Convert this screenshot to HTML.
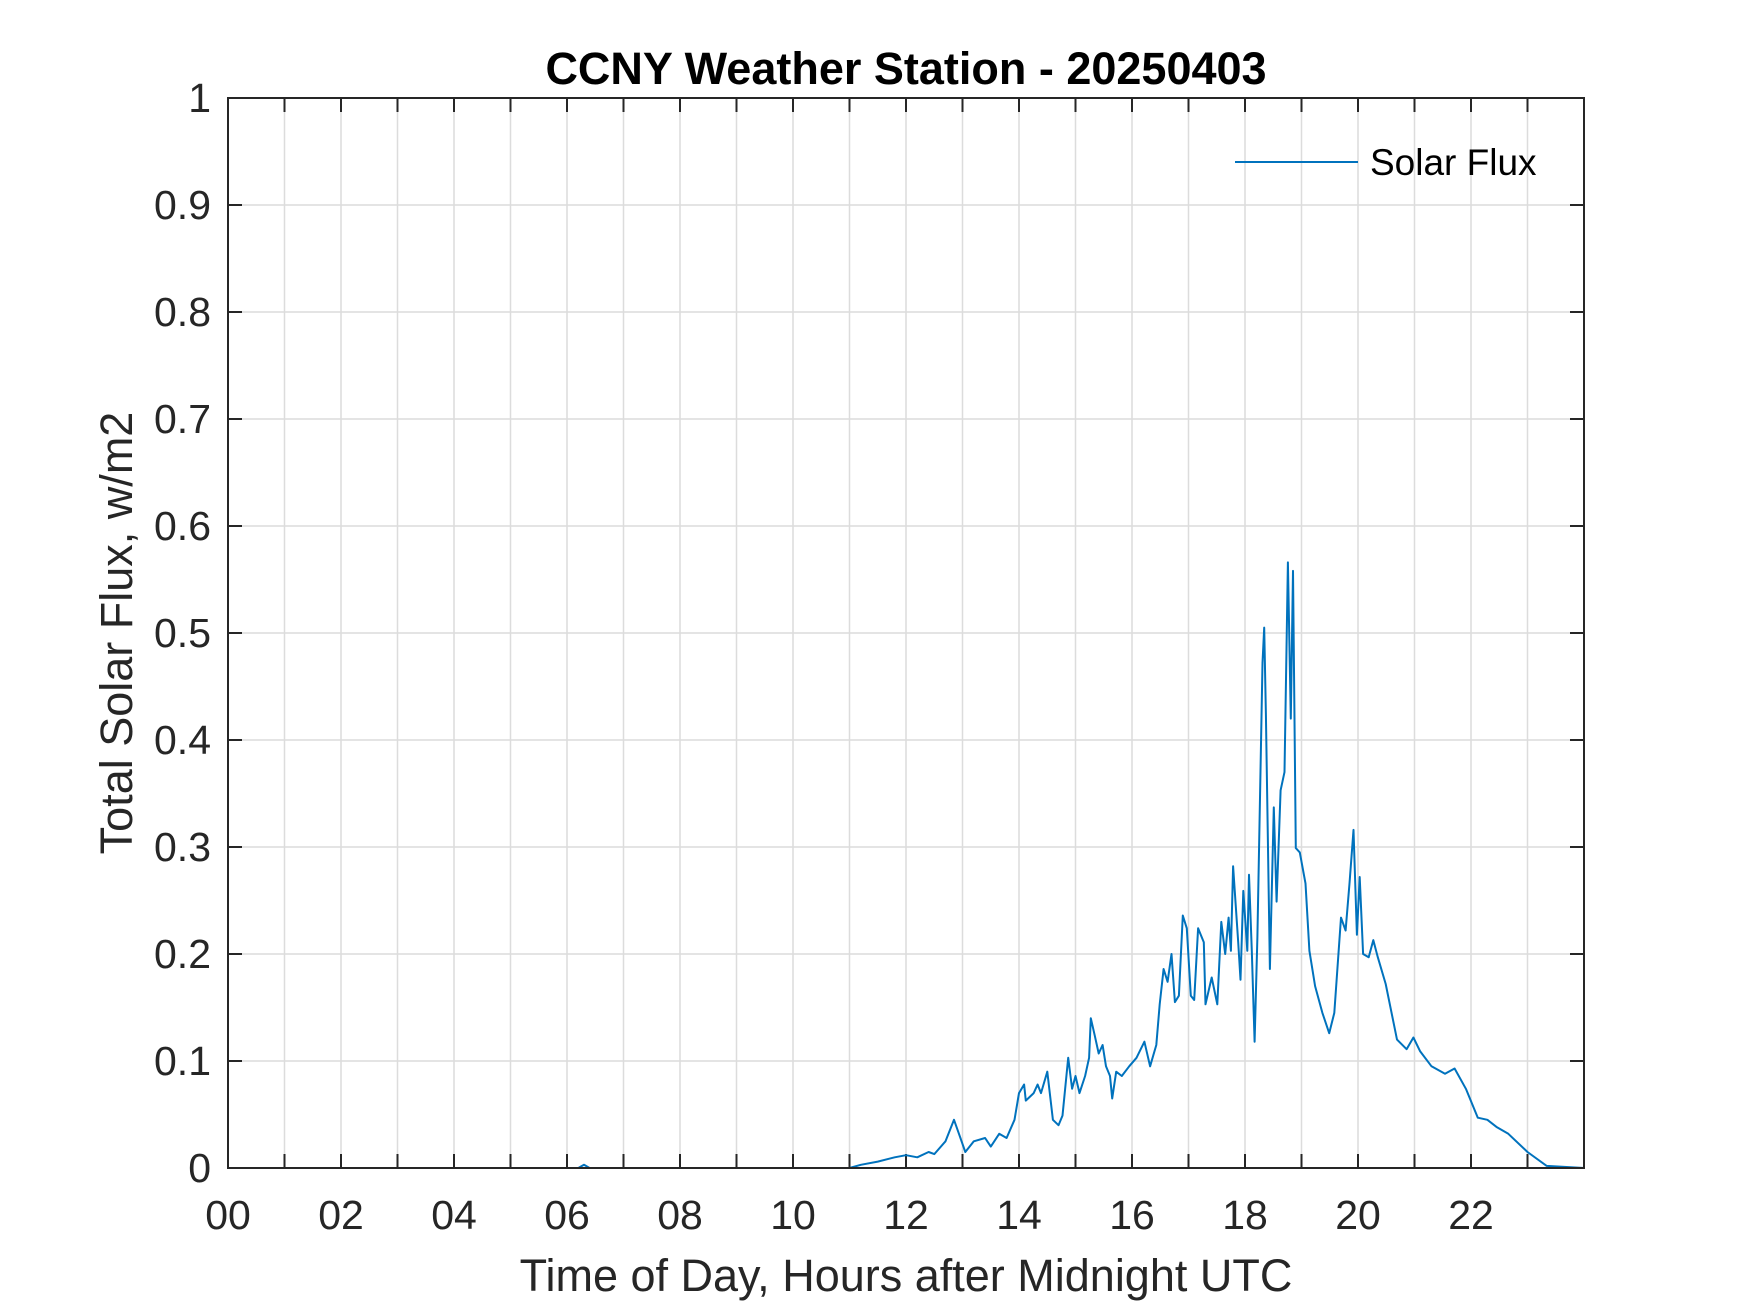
<!DOCTYPE html>
<html><head><meta charset="utf-8"><style>
html,body{margin:0;padding:0;background:#fff;}
svg{display:block;font-family:"Liberation Sans",Arial,sans-serif;}
</style></head><body>
<svg id="chart" width="1750" height="1313" viewBox="0 0 1750 1313" xmlns="http://www.w3.org/2000/svg">
<rect x="0" y="0" width="1750" height="1313" fill="#fff"/>
<g id="grid"></g>
<g id="ticks"></g>
<g id="series"></g>
<rect x="228" y="98" width="1356" height="1070" fill="none" stroke="#262626" stroke-width="2"/>
<g id="xlabels"></g>
<g id="ylabels"></g>
<text x="906" y="84" text-anchor="middle" font-size="45" font-weight="bold" fill="#000">CCNY Weather Station - 20250403</text>
<text x="906" y="1291" text-anchor="middle" font-size="45" fill="#262626">Time of Day, Hours after Midnight UTC</text>
<text transform="translate(132,633) rotate(-90)" text-anchor="middle" font-size="45" fill="#262626">Total Solar Flux, w/m2</text>
<g>
<line x1="1235" y1="162" x2="1358" y2="162" stroke="#0072BD" stroke-width="2"/>
<text x="1370" y="175" font-size="37" fill="#000">Solar Flux</text>
</g>
</svg>
<script>
const hours = [0,6.2,6.3,6.4,11.0,11.2,11.5,11.8,12.0,12.2,12.4,12.5,12.7,12.85,12.95,13.05,13.2,13.4,13.5,13.65,13.78,13.92,14.0,14.09,14.12,14.26,14.33,14.39,14.5,14.6,14.7,14.77,14.87,14.94,15.0,15.07,15.17,15.24,15.27,15.34,15.41,15.48,15.54,15.61,15.65,15.72,15.82,15.95,16.08,16.22,16.32,16.43,16.49,16.56,16.63,16.7,16.76,16.83,16.9,16.97,17.04,17.1,17.17,17.27,17.3,17.41,17.51,17.58,17.65,17.71,17.75,17.79,17.88,17.92,17.97,18.04,18.07,18.12,18.17,18.22,18.27,18.31,18.34,18.37,18.44,18.51,18.56,18.63,18.7,18.76,18.81,18.85,18.9,18.97,19.07,19.14,19.24,19.37,19.49,19.58,19.7,19.78,19.85,19.92,19.98,20.03,20.09,20.19,20.27,20.35,20.49,20.69,20.86,20.98,21.1,21.3,21.54,21.71,21.91,22.12,22.29,22.46,22.66,23.0,23.34,24];
const flux = [0,0,0.003,0,0,0.003,0.006,0.01,0.012,0.01,0.015,0.013,0.025,0.045,0.03,0.015,0.025,0.028,0.02,0.032,0.028,0.045,0.07,0.078,0.063,0.07,0.078,0.07,0.09,0.045,0.04,0.049,0.103,0.074,0.086,0.07,0.086,0.103,0.14,0.124,0.107,0.115,0.095,0.086,0.065,0.09,0.086,0.095,0.103,0.118,0.095,0.115,0.153,0.186,0.174,0.2,0.155,0.161,0.236,0.224,0.161,0.157,0.224,0.211,0.153,0.178,0.153,0.23,0.2,0.234,0.203,0.282,0.211,0.176,0.259,0.203,0.274,0.203,0.118,0.216,0.361,0.472,0.505,0.424,0.186,0.337,0.249,0.353,0.37,0.566,0.42,0.558,0.299,0.295,0.266,0.203,0.17,0.145,0.126,0.145,0.234,0.222,0.266,0.316,0.218,0.272,0.2,0.197,0.213,0.197,0.172,0.12,0.111,0.122,0.109,0.095,0.088,0.093,0.074,0.047,0.045,0.038,0.032,0.015,0.002,0];
const xTickLabels = ["00","02","04","06","08","10","12","14","16","18","20","22"];
const yTickLabels = ["0","0.1","0.2","0.3","0.4","0.5","0.6","0.7","0.8","0.9","1"];

const L=228,R=1584,T=98,B=1168;
const xs = h => L + (h/24)*(R-L);
const ys = v => B - v*(B-T);
const NS="http://www.w3.org/2000/svg";
function mk(tag, attrs, parent){const e=document.createElementNS(NS,tag);for(const k in attrs)e.setAttribute(k,attrs[k]);parent.appendChild(e);return e;}
const grid=document.getElementById('grid'), ticks=document.getElementById('ticks');
const xl=document.getElementById('xlabels'), yl=document.getElementById('ylabels');
for(let h=1;h<24;h++){
  const x=xs(h);
  const g=mk('line',{x1:x,y1:T,x2:x,y2:B,stroke:'#dcdcdc','stroke-width':1.5},grid);
  
  
  const t1=mk('line',{x1:x,y1:B,x2:x,y2:B-14,stroke:'#262626','stroke-width':2},ticks);
  
  
  const t2=mk('line',{x1:x,y1:T,x2:x,y2:T+14,stroke:'#262626','stroke-width':2},ticks);
  
  
}
xTickLabels.forEach((s,i)=>{
  const t=mk('text',{x:xs(i*2),y:1229,'text-anchor':'middle','font-size':41,fill:'#262626'},xl);
  t.textContent=s;
  
  
});
yTickLabels.forEach((s,i)=>{
  const v=i/10, y=ys(v);
  if(i>0&&i<10){
    const g=mk('line',{x1:L,y1:y,x2:R,y2:y,stroke:'#dcdcdc','stroke-width':1.5},grid);
    
    
    const t1=mk('line',{x1:L,y1:y,x2:L+14,y2:y,stroke:'#262626','stroke-width':2},ticks);
    
    
    const t2=mk('line',{x1:R,y1:y,x2:R-14,y2:y,stroke:'#262626','stroke-width':2},ticks);
    
    
  }
  const t=mk('text',{x:211,y:y+14,'text-anchor':'end','font-size':41,fill:'#262626'},yl);
  t.textContent=s;
  
  
});
const pts=hours.map((h,i)=>xs(h).toFixed(1)+','+ys(flux[i]).toFixed(1)).join(' ');
const line=mk('polyline',{points:pts,fill:'none',stroke:'#0072BD','stroke-width':2,'stroke-linejoin':'round'},document.getElementById('series'));


</script>
</body></html>
